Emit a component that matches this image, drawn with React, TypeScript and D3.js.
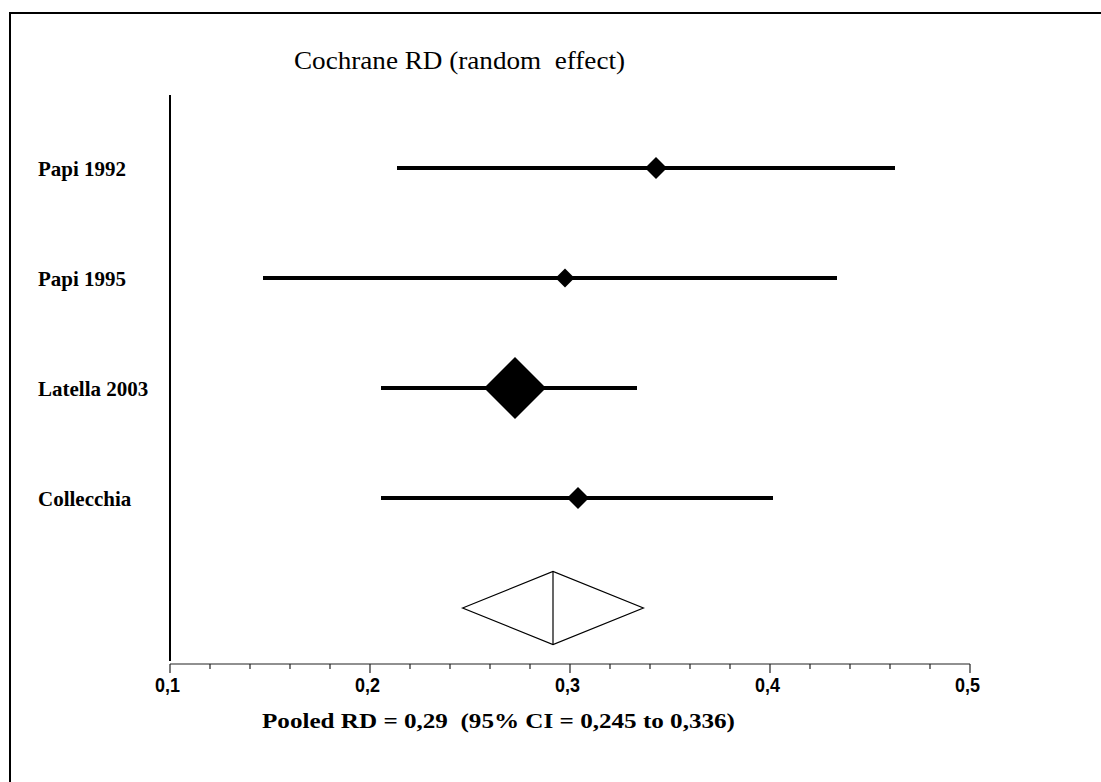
import React from "react";
import * as d3 from "d3";

const studies = ["Papi 1992", "Papi 1995", "Latella 2003", "Collecchia"];
const estimates = [0.343, 0.2975, 0.2725, 0.304];
const lowerCI = [0.2135, 0.1465, 0.2055, 0.2055];
const upperCI = [0.4625, 0.4335, 0.3335, 0.4015];
const weights = [9.4, 7.0, 74.3, 9.4];
const pooled = { est: 0.2915, lo: 0.2463, hi: 0.3367 };
const majorTicks = [0.1, 0.2, 0.3, 0.4, 0.5];
const tickLabels = ["0,1", "0,2", "0,3", "0,4", "0,5"];
const titleText = "Cochrane RD (random  effect)";
const footText = "Pooled RD = 0,29  (95% CI = 0,245 to 0,336)";

export default function App() {
  const W = 1101;
  const H = 782;
  const x = d3.scaleLinear().domain([0.1, 0.5]).range([170, 970]);
  const rows = [...studies, "pooled"];
  const y = d3.scalePoint<string>().domain(rows).range([168, 608]);
  const size = d3.scaleSqrt().domain([0, d3.max(weights) as number]).range([0, 31]);
  const axisY = 664;
  const minorTicks = d3
    .range(0, 21)
    .map((i) => 0.1 + i * 0.02)
    .filter((v) => Math.abs((v * 10) % 1) > 0.01 && Math.abs((v * 10) % 1) < 0.99);
  const py = y("pooled") as number;
  const ph = 36.5;
  const diamondPath = (cx: number, cy: number, r: number) =>
    `M${cx - r},${cy}L${cx},${cy - r}L${cx + r},${cy}L${cx},${cy + r}Z`;

  return (
    <svg width={W} height={H} style={{ position: "absolute", left: 0, top: 0, background: "#fff" }}>
      <rect x={0} y={0} width={W} height={H} fill="#fff" />
      <line x1={10} y1={13} x2={W + 5} y2={13} stroke="#000" strokeWidth={2} />
      <line x1={10} y1={12} x2={10} y2={H + 5} stroke="#000" strokeWidth={2} />

      <text
        x={294}
        y={69}
        fontFamily="'Liberation Serif', 'Times New Roman', serif"
        fontSize={26}
        textLength={331}
        lengthAdjust="spacingAndGlyphs"
        style={{ whiteSpace: "pre" }}
        xmlSpace="preserve"
      >
        {titleText}
      </text>

      <line x1={170} y1={95} x2={170} y2={661} stroke="#000" strokeWidth={2} />
      <line x1={170} y1={axisY} x2={970} y2={axisY} stroke="#222" strokeWidth={1.2} />
      {majorTicks.map((t, i) => (
        <g key={"M" + i}>
          <line x1={x(t)} y1={axisY} x2={x(t)} y2={axisY + 9} stroke="#222" strokeWidth={1.2} />
          <text
            x={x(t) - 15}
            y={692}
            fontFamily="'Liberation Sans', Arial, sans-serif"
            fontWeight="bold"
            fontSize={19.5}
            textLength={25}
            lengthAdjust="spacingAndGlyphs"
          >
            {tickLabels[i]}
          </text>
        </g>
      ))}
      {minorTicks.map((t, i) => (
        <line key={"m" + i} x1={x(t)} y1={axisY} x2={x(t)} y2={axisY + 5} stroke="#222" strokeWidth={1.2} />
      ))}

      {studies.map((s, i) => {
        const cy = y(s) as number;
        return (
          <g key={s}>
            <text x={38} y={cy} dy="0.36em" fontFamily="'Liberation Serif', 'Times New Roman', serif" fontWeight="bold" fontSize={21}>
              {s}
            </text>
            <line x1={x(lowerCI[i])} y1={cy} x2={x(upperCI[i])} y2={cy} stroke="#000" strokeWidth={4} />
            <path d={diamondPath(x(estimates[i]), cy, size(weights[i]))} fill="#000" />
          </g>
        );
      })}

      <path
        d={`M${x(pooled.lo)},${py}L${x(pooled.est)},${py - ph}L${x(pooled.hi)},${py}L${x(pooled.est)},${py + ph}Z`}
        fill="#fff"
        stroke="#000"
        strokeWidth={1.2}
      />
      <line x1={x(pooled.est)} y1={py - ph} x2={x(pooled.est)} y2={py + ph} stroke="#000" strokeWidth={1.2} />

      <text
        x={262}
        y={728}
        fontFamily="'Liberation Serif', 'Times New Roman', serif"
        fontWeight="bold"
        fontSize={20}
        textLength={473}
        lengthAdjust="spacingAndGlyphs"
        style={{ whiteSpace: "pre" }}
        xmlSpace="preserve"
      >
        {footText}
      </text>
    </svg>
  );
}
